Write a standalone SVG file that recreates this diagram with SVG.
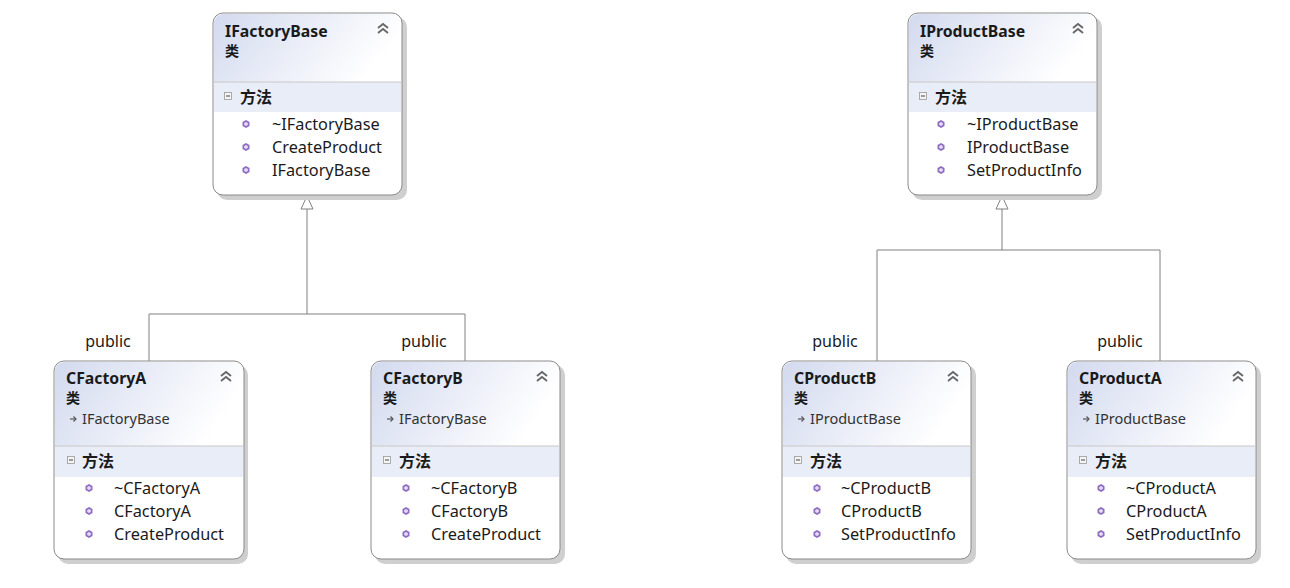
<svg xmlns="http://www.w3.org/2000/svg" width="1290" height="588" viewBox="0 0 1290 588">
<defs>
<linearGradient id="hdr" x1="0" y1="0" x2="1" y2="0.3">
<stop offset="0" stop-color="#d3daef"/>
<stop offset="1" stop-color="#ffffff"/>
</linearGradient>
<g id="ico">
<polygon points="0,-4 3.5,-2 3.5,2 0,4 -3.5,2 -3.5,-2" fill="#8e6cc0"/>
<polygon points="0,-2 1.8,-1 1.8,1 0,2 -1.8,1 -1.8,-1" fill="#e6dcf5"/>
</g>
<g id="chev">
<polyline points="-5,-1 0,-5 5,-1" fill="none" stroke="#666" stroke-width="1.8"/>
<polyline points="-5,4 0,0 5,4" fill="none" stroke="#666" stroke-width="1.8"/>
</g>
<g id="minus">
<rect x="-3.5" y="-3.5" width="7" height="7" fill="#f4f4f4" stroke="#999" stroke-width="0.8"/>
<line x1="-2" y1="0" x2="2" y2="0" stroke="#444" stroke-width="1"/>
</g>
<g id="inh">
<line x1="-3" y1="0" x2="3" y2="0" stroke="#555" stroke-width="1.2"/>
<polyline points="0.5,-2.5 3,0 0.5,2.5" fill="none" stroke="#555" stroke-width="1.2"/>
</g>
</defs>
<style>
text{font-family:"Segoe UI","Noto Sans","Noto Sans CJK SC",sans-serif;fill:#1a1a1a}
.t{font-weight:bold;font-size:15.8px}
.k{font-weight:bold;font-size:14px}
.b{font-size:14.5px;fill:#333}
.s{font-weight:bold;font-size:16px}
.m{font-size:16.3px}
.l{font-size:16px}
.box{fill:#fff;stroke:#8a8a8a;stroke-width:1}
.sh{fill:#cfcfcf}
.sec{fill:#e9edf7}
.ln{stroke:#808080;stroke-width:1;fill:none}
</style>
<rect width="1290" height="588" fill="#fff"/>

<g id="connectors">
<polyline class="ln" points="307,209 307,314"/>
<polyline class="ln" points="149,361 149,314 465,314 465,361"/>
<polygon points="307,196 301,209 313,209" fill="#fff" stroke="#808080"/>
<polyline class="ln" points="1002,209 1002,250"/>
<polyline class="ln" points="877,361 877,250 1160,250 1160,361"/>
<polygon points="1002,196 996,209 1008,209" fill="#fff" stroke="#808080"/>
<text class="l" x="108" y="347" text-anchor="middle">public</text>
<text class="l" x="424" y="347" text-anchor="middle">public</text>
<text class="l" x="835" y="347" text-anchor="middle">public</text>
<text class="l" x="1120" y="347" text-anchor="middle">public</text>
</g>

<g id="IFactoryBase">
<rect class="sh" x="217" y="17" width="190" height="183" rx="10"/>
<rect class="box" x="213" y="13" width="189" height="182" rx="10"/>
<path d="M214,82 V23 a9,9 0 0 1 9,-9 H392 a9,9 0 0 1 9,9 V82 Z" fill="url(#hdr)"/>
<rect class="sec" x="214" y="82" width="187" height="30"/>
<line x1="214" y1="82" x2="401" y2="82" stroke="#c8c8c8"/>
<text class="t" x="225" y="37">IFactoryBase</text>
<text class="k" x="225" y="56">类</text>
<use href="#chev" x="383" y="29"/>
<use href="#minus" x="228" y="96"/>
<text class="s" x="240" y="103">方法</text>
<use href="#ico" x="246" y="124"/><text class="m" x="272" y="130">~IFactoryBase</text>
<use href="#ico" x="246" y="147"/><text class="m" x="272" y="153">CreateProduct</text>
<use href="#ico" x="246" y="170"/><text class="m" x="272" y="176">IFactoryBase</text>
</g>

<g id="IProductBase">
<rect class="sh" x="912" y="17" width="190" height="183" rx="10"/>
<rect class="box" x="908" y="13" width="189" height="182" rx="10"/>
<path d="M909,82 V23 a9,9 0 0 1 9,-9 H1087 a9,9 0 0 1 9,9 V82 Z" fill="url(#hdr)"/>
<rect class="sec" x="909" y="82" width="187" height="30"/>
<line x1="909" y1="82" x2="1096" y2="82" stroke="#c8c8c8"/>
<text class="t" x="920" y="37">IProductBase</text>
<text class="k" x="920" y="56">类</text>
<use href="#chev" x="1078" y="29"/>
<use href="#minus" x="923" y="96"/>
<text class="s" x="935" y="103">方法</text>
<use href="#ico" x="941" y="124"/><text class="m" x="967" y="130">~IProductBase</text>
<use href="#ico" x="941" y="147"/><text class="m" x="967" y="153">IProductBase</text>
<use href="#ico" x="941" y="170"/><text class="m" x="967" y="176">SetProductInfo</text>
</g>

<g id="CFactoryA">
<rect class="sh" x="58" y="365" width="190" height="199" rx="10"/>
<rect class="box" x="54" y="361" width="190" height="198" rx="10"/>
<path d="M55,446 V371 a9,9 0 0 1 9,-9 H234 a9,9 0 0 1 9,9 V446 Z" fill="url(#hdr)"/>
<rect class="sec" x="55" y="446" width="188" height="31"/>
<line x1="55" y1="446" x2="243" y2="446" stroke="#c8c8c8"/>
<text class="t" x="66" y="384">CFactoryA</text>
<text class="k" x="66" y="403">类</text>
<use href="#inh" x="73" y="419"/><text class="b" x="82" y="424">IFactoryBase</text>
<use href="#chev" x="226" y="377"/>
<use href="#minus" x="71" y="460"/>
<text class="s" x="82" y="467">方法</text>
<use href="#ico" x="89" y="488"/><text class="m" x="114" y="494">~CFactoryA</text>
<use href="#ico" x="89" y="511"/><text class="m" x="114" y="517">CFactoryA</text>
<use href="#ico" x="89" y="534"/><text class="m" x="114" y="540">CreateProduct</text>
</g>

<g id="CFactoryB">
<rect class="sh" x="375" y="365" width="190" height="199" rx="10"/>
<rect class="box" x="371" y="361" width="189" height="198" rx="10"/>
<path d="M372,446 V371 a9,9 0 0 1 9,-9 H550 a9,9 0 0 1 9,9 V446 Z" fill="url(#hdr)"/>
<rect class="sec" x="372" y="446" width="187" height="31"/>
<line x1="372" y1="446" x2="559" y2="446" stroke="#c8c8c8"/>
<text class="t" x="383" y="384">CFactoryB</text>
<text class="k" x="383" y="403">类</text>
<use href="#inh" x="390" y="419"/><text class="b" x="399" y="424">IFactoryBase</text>
<use href="#chev" x="542" y="377"/>
<use href="#minus" x="387" y="460"/>
<text class="s" x="399" y="467">方法</text>
<use href="#ico" x="406" y="488"/><text class="m" x="431" y="494">~CFactoryB</text>
<use href="#ico" x="406" y="511"/><text class="m" x="431" y="517">CFactoryB</text>
<use href="#ico" x="406" y="534"/><text class="m" x="431" y="540">CreateProduct</text>
</g>

<g id="CProductB">
<rect class="sh" x="786" y="365" width="190" height="199" rx="10"/>
<rect class="box" x="782" y="361" width="189" height="198" rx="10"/>
<path d="M783,446 V371 a9,9 0 0 1 9,-9 H961 a9,9 0 0 1 9,9 V446 Z" fill="url(#hdr)"/>
<rect class="sec" x="783" y="446" width="187" height="31"/>
<line x1="783" y1="446" x2="970" y2="446" stroke="#c8c8c8"/>
<text class="t" x="794" y="384">CProductB</text>
<text class="k" x="794" y="403">类</text>
<use href="#inh" x="801" y="419"/><text class="b" x="810" y="424">IProductBase</text>
<use href="#chev" x="953" y="377"/>
<use href="#minus" x="798" y="460"/>
<text class="s" x="810" y="467">方法</text>
<use href="#ico" x="817" y="488"/><text class="m" x="841" y="494">~CProductB</text>
<use href="#ico" x="817" y="511"/><text class="m" x="841" y="517">CProductB</text>
<use href="#ico" x="817" y="534"/><text class="m" x="841" y="540">SetProductInfo</text>
</g>

<g id="CProductA">
<rect class="sh" x="1071" y="365" width="190" height="199" rx="10"/>
<rect class="box" x="1067" y="361" width="189" height="198" rx="10"/>
<path d="M1068,446 V371 a9,9 0 0 1 9,-9 H1246 a9,9 0 0 1 9,9 V446 Z" fill="url(#hdr)"/>
<rect class="sec" x="1068" y="446" width="187" height="31"/>
<line x1="1068" y1="446" x2="1255" y2="446" stroke="#c8c8c8"/>
<text class="t" x="1079" y="384">CProductA</text>
<text class="k" x="1079" y="403">类</text>
<use href="#inh" x="1086" y="419"/><text class="b" x="1095" y="424">IProductBase</text>
<use href="#chev" x="1238" y="377"/>
<use href="#minus" x="1083" y="460"/>
<text class="s" x="1095" y="467">方法</text>
<use href="#ico" x="1101" y="488"/><text class="m" x="1126" y="494">~CProductA</text>
<use href="#ico" x="1101" y="511"/><text class="m" x="1126" y="517">CProductA</text>
<use href="#ico" x="1101" y="534"/><text class="m" x="1126" y="540">SetProductInfo</text>
</g>
</svg>
